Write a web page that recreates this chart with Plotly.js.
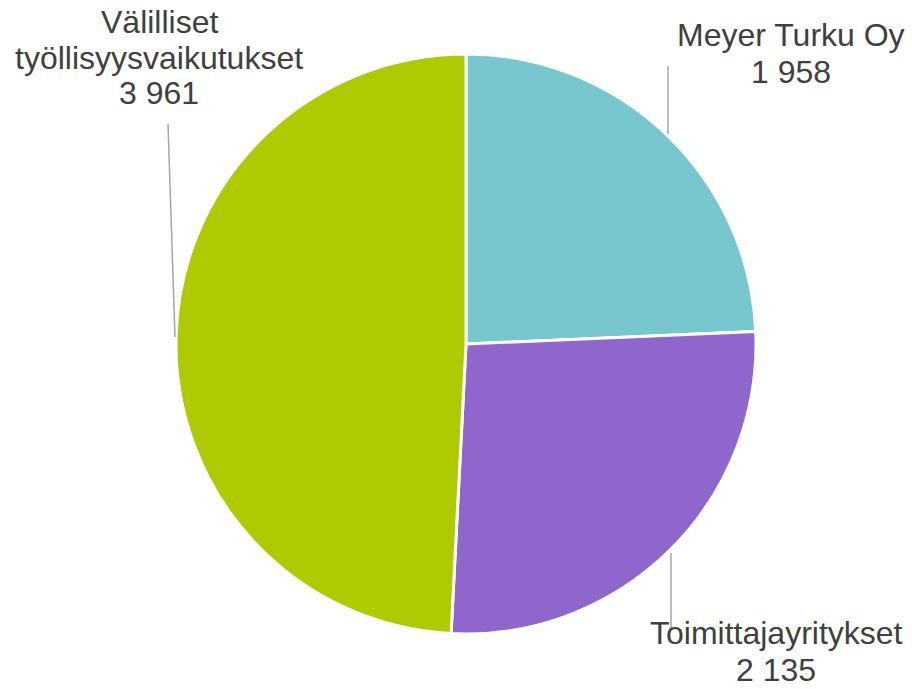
<!DOCTYPE html>
<html>
<head>
<meta charset="utf-8">
<script src="https://cdn.plot.ly/plotly-3.0.1.min.js"></script>
<style>html,body{margin:0;padding:0;background:#fff;}#chart{width:912px;height:689px;}</style>
</head>
<body>
<div id="chart"></div>
<script>
const categories = ["Meyer Turku Oy", "Toimittajayritykset", "Välilliset työllisyysvaikutukset"];
const labelLines = [["Meyer Turku Oy"], ["Toimittajayritykset"], ["Välilliset", "työllisyysvaikutukset"]];
const values = [1958, 2135, 3961];
const colors = ["#78C7CF", "#8F66CC", "#AFCA00"];

const W = 912, H = 689;
const px = x => x / W;
const py = y => 1 - y / H;
const fmt = v => String(v).replace(/\B(?=(\d{3})+(?!\d))/g, " ");

const trace = {
  type: "pie",
  labels: categories,
  values: values,
  sort: false,
  direction: "clockwise",
  rotation: 0,
  textinfo: "none",
  hoverinfo: "label+value",
  marker: {colors: colors, line: {color: "#ffffff", width: 3}},
  domain: {x: [px(176), px(756)], y: [py(634), py(54)]},
  showlegend: false
};

const FS = 32;
const font = {family: "Liberation Sans, Arial, sans-serif", size: FS, color: "#404040"};
// label block: center x, cap-top of first line, line spacing
const blocks = [
  {x: 791, top: 25, gap: 36.5},
  {x: 776, top: 623, gap: 36},
  {x: 159, top: 11.5, gap: 35.8}
];
const annotations = [];
categories.forEach((c, i) => {
  const lines = labelLines[i].concat([fmt(values[i])]);
  lines.forEach((t, k) => {
    const capTop = blocks[i].top + k * blocks[i].gap;
    annotations.push({
      xref: "paper", yref: "paper",
      x: px(blocks[i].x), y: Math.max(0, py(capTop - 0.27 * FS)),
      xanchor: "center", yanchor: "top",
      text: t, showarrow: false, align: "center", font: font, borderpad: 0
    });
  });
});
// keep the last line of the bottom label inside the page
const last = annotations[3];
last.yanchor = "bottom";
last.y = 0;

const leaders = [
  [668, 66, 668, 134],
  [671, 553, 671, 628],
  [168, 124, 175, 337]
];
const shapes = leaders.map(l => ({
  type: "line", xref: "paper", yref: "paper",
  x0: px(l[0]), y0: py(l[1]), x1: px(l[2]), y1: py(l[3]),
  line: {color: "#A6A6A6", width: 1.5}
}));

Plotly.newPlot("chart", [trace], {
  width: W, height: H,
  margin: {l: 0, r: 0, t: 0, b: 0},
  paper_bgcolor: "#ffffff",
  annotations: annotations,
  shapes: shapes
}, {displayModeBar: false, staticPlot: true});
</script>
</body>
</html>
